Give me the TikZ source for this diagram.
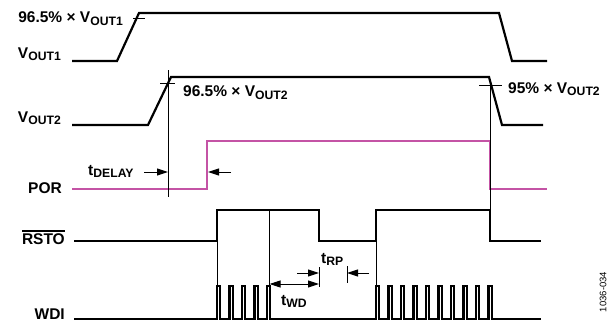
\documentclass[tikz,border=0pt]{standalone}
\usepackage{fontspec}
\setmainfont{Liberation Sans}
\usepackage{xcolor}
\definecolor{porpink}{HTML}{C453A5}
\usetikzlibrary{
  arrows.meta,
  positioning,
  calc,
}
\newcommand{\lowsub}[1]{\raisebox{-0.3ex}{\fontsize{12.2}{13}\selectfont #1}}
\newcommand{\barlabel}[1]{\leavevmode\vbox{\hrule height 1.3pt\kern1.6pt\hbox{#1}}}

\begin{document}
\begin{tikzpicture}[
  x=1pt, y=-1pt,
  wave/.style={
    line width=2.2pt,
    draw=black,
  },
  porwave/.style={
    wave,
    draw=porpink,
  },
  guide/.style={
    line width=0.7pt,
  },
  tickmark/.style={
    line width=1pt,
  },
  arr/.style={
    -{Triangle[length=11pt, width=7pt]},
    line width=1pt,
  },
  dblarr/.style={
    {Triangle[length=11pt, width=7pt]}-{Triangle[length=11pt, width=7pt]},
    line width=1pt,
  },
  siglabel/.style={
    font=\bfseries\fontsize{15.5}{17}\selectfont,
    inner sep=0pt,
  },
  note/.style={
    font=\fontsize{9.5}{10}\selectfont,
    inner sep=0pt,
  },
]
\useasboundingbox (0,0) rectangle (613,322);

% =============================================================================
% Waveforms
% =============================================================================
\draw[wave] (72,61) -- (117,61) -- (139,13) -- (499,13) -- (512,61) -- (547,61);
\draw[wave] (72,125) -- (148,125) -- (171,77) -- (489,77) -- (502,125) -- (543,125);
\draw[porwave] (72,189) -- (207,189) -- (207,141) -- (490,141) -- (490,189) -- (547,189);
\draw[wave] (74,241) -- (217,241) -- (217,210) -- (319,210) -- (319,241)
  -- (376,241) -- (376,210) -- (490,210) -- (490,241) -- (541,241);
\draw[wave] (74,319)
  foreach \i in {0,...,4} { -- ({217+12.5*\i},319) -- ++(0,-33) -- ++(3.3,0) -- ++(0,33) }
  foreach \i in {0,...,9} { -- ({376+12.5*\i},319) -- ++(0,-33) -- ++(3.3,0) -- ++(0,33) }
  -- (541,319);

% --- threshold ticks ---
\draw[tickmark] (133,18) -- (145,18);
\draw[tickmark] (160,83) -- (175,83);
\draw[tickmark] (479,85) -- (502,85);

% =============================================================================
% Timing guides
% =============================================================================
\coordinate (riseTop) at (168,70);
\coordinate (riseBot) at (168,197);
\coordinate (fallTop) at (490.7,80);
\coordinate (fallBot) at (490.7,210);
\coordinate (wdiA) at (217,210);
\coordinate (wdiAbot) at (217,319);
\coordinate (wdiB) at (269.5,210);
\coordinate (wdiBbot) at (269.5,319);
\coordinate (wdiC) at (376,241);
\coordinate (wdiCbot) at (376,319);
\coordinate (rpTickA) at (319,267);
\coordinate (rpTickAbot) at (319,287);
\coordinate (rpTickB) at (347,266);
\coordinate (rpTickBbot) at (347,283);

\draw[guide] (riseTop) -- (riseBot);
\draw[guide] (fallTop) -- (fallBot);
\draw[guide] (wdiA) -- (wdiAbot);
\draw[guide] (wdiB) -- (wdiBbot);
\draw[guide] (wdiC) -- (wdiCbot);
\draw[guide] (rpTickA) -- (rpTickAbot);
\draw[guide] (rpTickB) -- (rpTickBbot);

% --- t_DELAY ---
\coordinate (delayL) at (144,172);
\coordinate (delayR) at (231,172);
\draw[arr] (delayL) -- (riseTop |- delayL);
\draw[arr] (delayR) -- (208,172);

% --- t_WD and t_RP ---
\draw[dblarr] (wdiB |- 0,284) -- (rpTickA |- 0,284);
\coordinate (rpL) at (297,273);
\coordinate (rpR) at (369,273);
\draw[arr] (rpL) -- (rpTickA |- rpL);
\draw[arr] (rpR) -- (rpTickB |- rpR);

% =============================================================================
% Labels
% =============================================================================
\node[siglabel, anchor=base east] (vout1lbl) at (61,58.5) {V\lowsub{OUT1}};
\node[siglabel, anchor=base east] (vout2lbl) at (61,122.5) {V\lowsub{OUT2}};
\node[siglabel, anchor=base east] (porlbl) at (62,193) {POR};
\node[siglabel, anchor=base east] (rstolbl) at (65,244) {\barlabel{RSTO}};
\node[siglabel, anchor=base east] (wdilbl) at (65,319.5) {WDI};

\node[siglabel, anchor=base east] (th1lbl) at (123,22.7) {96.5\% × V\lowsub{OUT1}};
\node[siglabel, anchor=base west] (th2lbl) at (183,96.7) {96.5\% × V\lowsub{OUT2}};
\node[siglabel, anchor=base west] (th3lbl) at (508,93) {95\% × V\lowsub{OUT2}};

\node[siglabel, anchor=base west] (delaylbl) at (88,175) {t\lowsub{DELAY}};
\node[siglabel, anchor=base west] (wdlbl) at (281,305) {t\lowsub{WD}};
\node[siglabel, anchor=base west] (rplbl) at (321,263) {t\lowsub{RP}};

\node[note, rotate=90] (figid) at (603,292) {1036-034};

\end{tikzpicture}
\end{document}
